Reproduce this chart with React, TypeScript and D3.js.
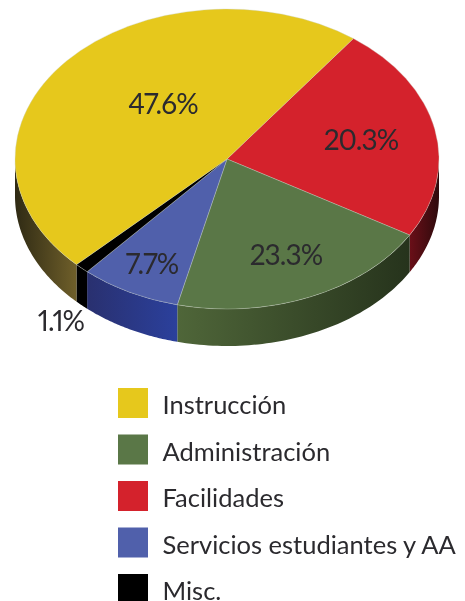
import React from "react";
import * as d3 from "d3";

// Clockwise from the red/yellow boundary. Angular share.
const sliceNames = ["Facilidades", "Administración", "Servicios estudiantes y AA", "Misc.", "Instrucción"];
const sliceShares = [23.3, 20.3, 7.7, 1.1, 47.6];
const sliceLabels = ["20.3%", "23.3%", "7.7%", "1.1%", "47.6%"];
const sliceColors = ["#d4222c", "#5a7747", "#5060ab", "#000000", "#e6c81c"];
const sideStops = [
  ["#6a0f18", "#2e0a0c"],
  ["#4f6639", "#26331c"],
  ["#29306f", "#2b409c"],
  ["#000000", "#000000"],
  ["#2f2a14", "#6f5f2a"],
];
const labelPos: [number, number][] = [[361, 150], [286, 265], [152, 274], [61, 331], [163, 114]];
const legendNames = ["Instrucción", "Administración", "Facilidades", "Servicios estudiantes y AA", "Misc."];
const legendColors = ["#e6c81c", "#5a7747", "#d4222c", "#5060ab", "#000000"];

const cx = 227, cy = 159, rx = 212, ry = 150, depth = 37;
const startDeg = 36.6;
const font = "Lato, 'Open Sans', sans-serif";
const textColor = "#2b2a2e";

const pie = d3.pie<number>().sort(null)
  .startAngle((startDeg * Math.PI) / 180)
  .endAngle(((startDeg + 360) * Math.PI) / 180);
const arcs = pie(sliceShares);
const arcGen = d3.arc<d3.PieArcDatum<number>>().innerRadius(0).outerRadius(rx);

const px = (a: number) => cx + rx * Math.sin(a);
const py = (a: number) => cy - ry * Math.cos(a);

// Visible part of the rim: the front half of the ellipse, π/2 to 3π/2 (mod 2π).
function sidePath(a0: number, a1: number): string | null {
  const lo = Math.PI / 2, hi = (3 * Math.PI) / 2;
  let s = a0, e = a1;
  if (s > hi) { s -= 2 * Math.PI; e -= 2 * Math.PI; }
  s = Math.max(s, lo); e = Math.min(e, hi);
  if (e <= s) return null;
  const p = d3.path();
  const steps = 60;
  const angles = d3.range(steps + 1).map((i) => s + ((e - s) * i) / steps);
  angles.forEach((a, i) => (i ? p.lineTo(px(a), py(a)) : p.moveTo(px(a), py(a))));
  angles.slice().reverse().forEach((a) => p.lineTo(px(a), py(a) + depth));
  p.closePath();
  return p.toString();
}

export default function App() {
  const legendY = d3.scalePoint<string>().domain(legendNames).range([388, 574]);
  return (
    <svg width={465} height={601} style={{ position: "fixed", left: 0, top: 0 }}>
      <defs>
        {arcs.map((d, i) => {
          const lo = Math.max(d.startAngle, Math.PI / 2), hi = Math.min(d.endAngle, 1.5 * Math.PI);
          return (
            <linearGradient key={i} id={`side${i}`} gradientUnits="userSpaceOnUse"
              x1={Math.min(px(lo), px(hi))} x2={Math.max(px(lo), px(hi))} y1={0} y2={0}>
              <stop offset="0" stopColor={sideStops[i][0]} />
              <stop offset="1" stopColor={sideStops[i][1]} />
            </linearGradient>
          );
        })}
      </defs>
      {arcs.map((d, i) => {
        const path = sidePath(d.startAngle, d.endAngle);
        return path ? <path key={i} d={path} fill={`url(#side${i})`} /> : null;
      })}
      <g transform={`translate(${cx},${cy}) scale(1,${ry / rx})`}>
        {arcs.map((d, i) => (
          <path key={i} d={arcGen(d) ?? ""} fill={sliceColors[i]} stroke="#c9d0c4" strokeOpacity={0.7}
            strokeWidth={0.5} vectorEffect="non-scaling-stroke" />
        ))}
      </g>
      {sliceLabels.map((t, i) => (
        <text key={i} x={labelPos[i][0]} y={labelPos[i][1]} textAnchor="middle" fontFamily={font}
          fontSize={28} letterSpacing={-0.9} fill={textColor} style={{ fontVariantNumeric: "proportional-nums" }}>{t}</text>
      ))}
      {legendNames.map((n, i) => (
        <g key={n} transform={`translate(118,${legendY(n)})`}>
          <rect width={30} height={30} fill={legendColors[i]} />
          <text x={44.5} y={26} fontFamily={font} fontSize={25.5} fill={textColor}>{n}</text>
        </g>
      ))}
    </svg>
  );
}
